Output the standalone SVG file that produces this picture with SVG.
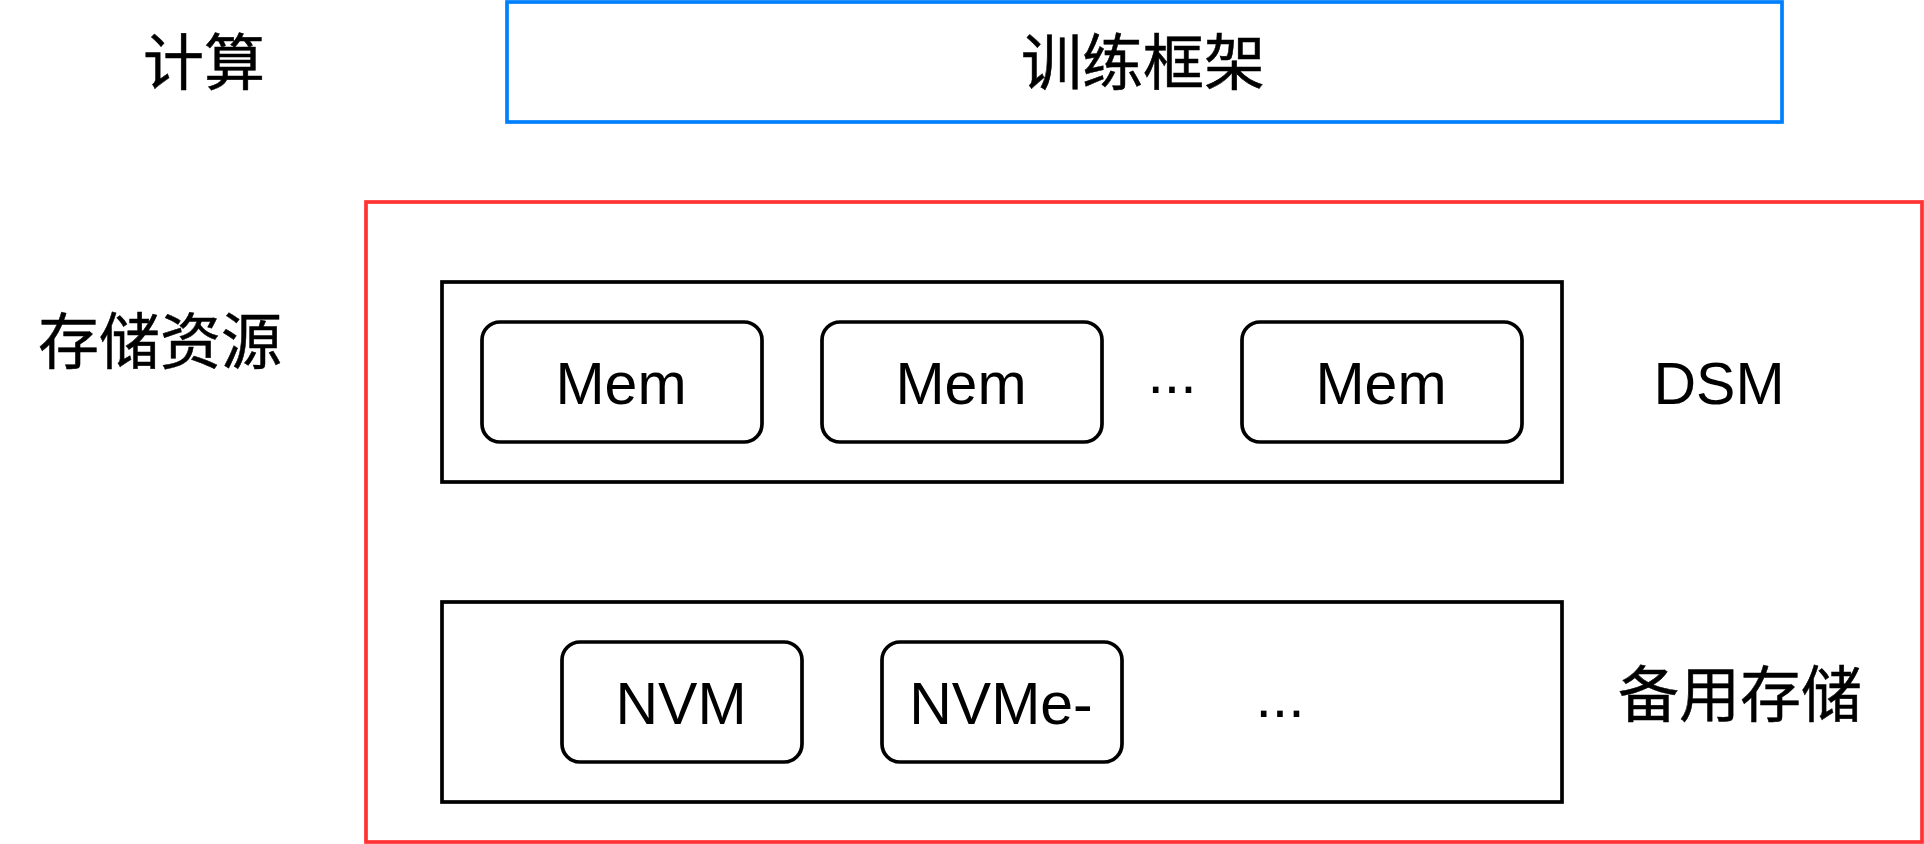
<svg xmlns="http://www.w3.org/2000/svg" width="1924" height="844" viewBox="0 0 1924 844">
  <style>
    .box { fill: #ffffff; stroke: #000000; stroke-width: 3.7; }
    .rbox { fill: #ffffff; stroke: #000000; stroke-width: 3.7; }
    .lbl { font-family: "Liberation Sans", Arial, "Noto Sans CJK SC", sans-serif; font-size: 59px; fill: #000000; text-anchor: middle; }
    .cjk { font-family: "Noto Sans CJK SC", "Liberation Sans", sans-serif; font-size: 61px; fill: #000000; stroke: #000000; stroke-width: 0.5; text-anchor: middle; }
  </style>
  <rect x="0" y="0" width="1924" height="844" fill="#ffffff"/>
  <g id="connectors"></g>
  <g id="label-compute">
    <text class="cjk" x="204" y="85">计算</text>
  </g>
  <g id="label-storage">
    <text class="cjk" x="160" y="364">存储资源</text>
  </g>
  <g id="node-framework">
    <rect x="507" y="2" width="1275" height="120" fill="#ffffff" stroke="#007FFF" stroke-width="3.7"/>
    <text class="cjk" x="1143" y="85">训练框架</text>
  </g>
  <g id="node-storage-resources">
    <rect x="366" y="202" width="1556" height="640" fill="#ffffff" stroke="#FF3333" stroke-width="3.7"/>
  </g>
  <g id="node-dsm">
    <rect class="box" x="442" y="282" width="1120" height="200"/>
  </g>
  <g id="node-mem1">
    <rect class="rbox" x="482" y="322" width="280" height="120" rx="18" ry="18"/>
    <text class="lbl" x="621" y="404">Mem</text>
  </g>
  <g id="node-mem2">
    <rect class="rbox" x="822" y="322" width="280" height="120" rx="18" ry="18"/>
    <text class="lbl" x="961" y="404">Mem</text>
  </g>
  <g id="label-dots1">
    <text class="lbl" x="1172" y="393">...</text>
  </g>
  <g id="node-mem3">
    <rect class="rbox" x="1242" y="322" width="280" height="120" rx="18" ry="18"/>
    <text class="lbl" x="1381" y="404">Mem</text>
  </g>
  <g id="label-dsm">
    <text class="lbl" x="1719" y="404">DSM</text>
  </g>
  <g id="node-backup">
    <rect class="box" x="442" y="602" width="1120" height="200"/>
  </g>
  <g id="node-nvm">
    <rect class="rbox" x="562" y="642" width="240" height="120" rx="18" ry="18"/>
    <text class="lbl" x="681" y="724">NVM</text>
  </g>
  <g id="node-nvme">
    <rect class="rbox" x="882" y="642" width="240" height="120" rx="18" ry="18"/>
    <text class="lbl" x="1001" y="724">NVMe-</text>
  </g>
  <g id="label-dots2">
    <text class="lbl" x="1280" y="717">...</text>
  </g>
  <g id="label-backup">
    <text class="cjk" x="1740" y="717">备用存储</text>
  </g>
</svg>
